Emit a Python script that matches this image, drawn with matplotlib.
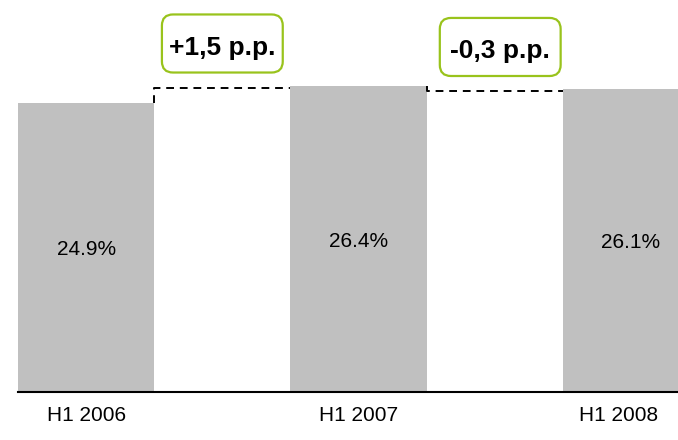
import matplotlib.pyplot as plt
import matplotlib.transforms as mtransforms
from matplotlib.patches import FancyBboxPatch

periods = ["H1 2006", "H1 2007", "H1 2008"]
shares = [24.9, 26.4, 26.1]
changes = ["+1,5 p.p.", "-0,3 p.p."]

plt.rcParams["font.family"] = ["Liberation Sans", "DejaVu Sans"]

fig = plt.figure(figsize=(6.78, 4.40), dpi=100)
ax = fig.add_axes([18 / 678, 48 / 440, 660 / 678, 392 / 440])

xs = [2 * i for i in range(len(shares))]
ax.bar(xs, shares, width=1.0, color="#c0c0c0", zorder=1)

for x, v in zip(xs, shares):
    ax.text(x, v / 2 - 0.2, f"{v:.1f}%", ha="center", va="center", fontsize=15)

pts = mtransforms.Affine2D().scale(1 / 72) + fig.dpi_scale_trans

# dashed step between consecutive bars + change boxes
for i, label in enumerate(changes):
    x0 = xs[i] + 0.5
    x1 = xs[i + 1] - 0.5
    y0, y1 = shares[i], shares[i + 1]
    ax.plot([x0, x0, x1], [y0, y1 - 0.15, y1 - 0.15], color="black",
            ls=(0, (4, 3)), lw=1.4, zorder=3, clip_on=False)
    cx, cy = (x0 + x1) / 2 + 0.04 * i, y1 + 3.65
    box = FancyBboxPatch((-43.5, -20.9), 87, 41.8,
                         boxstyle="round,pad=0,rounding_size=8",
                         fc="white", ec="#99c31c", lw=1.6, clip_on=False,
                         transform=pts + mtransforms.ScaledTranslation(cx, cy, ax.transData))
    ax.add_patch(box)
    t = ax.text(cx, cy, label, ha="center", va="baseline",
                fontsize=19, fontweight="bold", zorder=4)
    t.set_transform(ax.transData + mtransforms.ScaledTranslation(0, -8 / 72, fig.dpi_scale_trans))

ax.set_xlim(-0.5, 4.345)
ax.set_ylim(0, 33.8)
ax.set_xticks(xs)
ax.set_xticklabels(periods, fontsize=15)
ax.tick_params(axis="x", length=0, pad=10)
last = ax.get_xticklabels()[-1]
last.set_transform(last.get_transform() + mtransforms.ScaledTranslation(-12 / 100, 0, fig.dpi_scale_trans))
ax.set_yticks([])
for s in ["top", "right", "left"]:
    ax.spines[s].set_visible(False)
ax.spines["bottom"].set_linewidth(1.5)

plt.savefig("out.png", dpi=100)
plt.close()
